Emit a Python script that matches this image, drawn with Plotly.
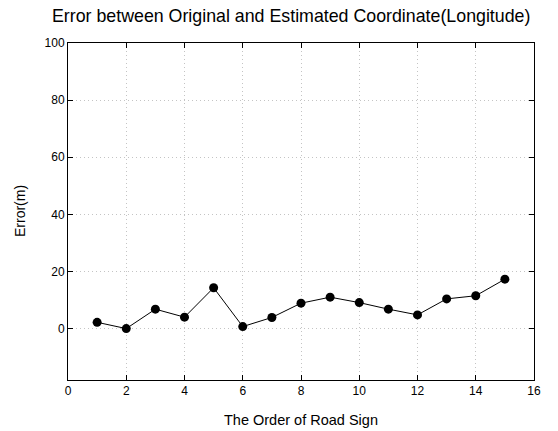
import plotly.graph_objects as go

order = [1, 2, 3, 4, 5, 6, 7, 8, 9, 10, 11, 12, 13, 14, 15]
error_m = [2.2, 0.0, 6.8, 4.0, 14.3, 0.7, 3.9, 8.9, 11.0, 9.1, 6.8, 4.8, 10.4, 11.5, 17.3]
x_ticks = [0, 2, 4, 6, 8, 10, 12, 14, 16]
y_ticks = [0, 20, 40, 60, 80, 100]

FONT = "Liberation Sans, Arial, sans-serif"

fig = go.Figure()
fig.add_trace(go.Scatter(
    x=order, y=error_m, mode="lines+markers",
    line=dict(color="black", width=1),
    marker=dict(color="black", size=9),
    showlegend=False,
))

axis_common = dict(
    showline=True, linecolor="black", linewidth=1, mirror="ticks",
    ticks="inside", ticklen=5, tickcolor="black", tickwidth=1,
    showgrid=True, gridcolor="#c4c4c4", griddash="1px,3px", gridwidth=1,
    zeroline=False, automargin=False,
    tickfont=dict(family=FONT, size=12, color="black"),
)

fig.update_xaxes(range=[0, 16], tickvals=x_ticks,
                 ticktext=[str(v) for v in x_ticks], **axis_common)
fig.update_yaxes(range=[-18, 100], tickvals=y_ticks,
                 ticktext=[str(v) for v in y_ticks], **axis_common)

W, H = 558, 431
ML, MR, MT, MB = 68, 24, 43, 51
PW, PH = W - ML - MR, H - MT - MB

fig.add_annotation(text="The Order of Road Sign", xref="paper", yref="paper",
                   x=0.5, y=-(420 - (H - MB)) / PH, xanchor="center", yanchor="middle",
                   showarrow=False, font=dict(family=FONT, size=14.5, color="black"))
fig.add_annotation(text="Error(m)", xref="paper", yref="paper",
                   x=(20 - ML) / PW, y=((H - MB) - 211) / PH, xanchor="center", yanchor="middle",
                   textangle=-90, showarrow=False,
                   font=dict(family=FONT, size=14, color="black"))

fig.update_layout(
    width=W, height=H,
    margin=dict(l=ML, r=MR, t=MT, b=MB),
    paper_bgcolor="white", plot_bgcolor="white",
    title=dict(text="Error between Original and Estimated Coordinate(Longitude)",
               font=dict(family=FONT, size=17.8, color="black"),
               x=52 / W, xref="container", xanchor="left",
               y=1 - 16 / H, yref="container", yanchor="middle"),
    font=dict(family=FONT, color="black"),
)

fig.write_html("out.html", config={"displayModeBar": False},
               post_script="document.body.style.margin='0';document.body.style.overflow='hidden';")
